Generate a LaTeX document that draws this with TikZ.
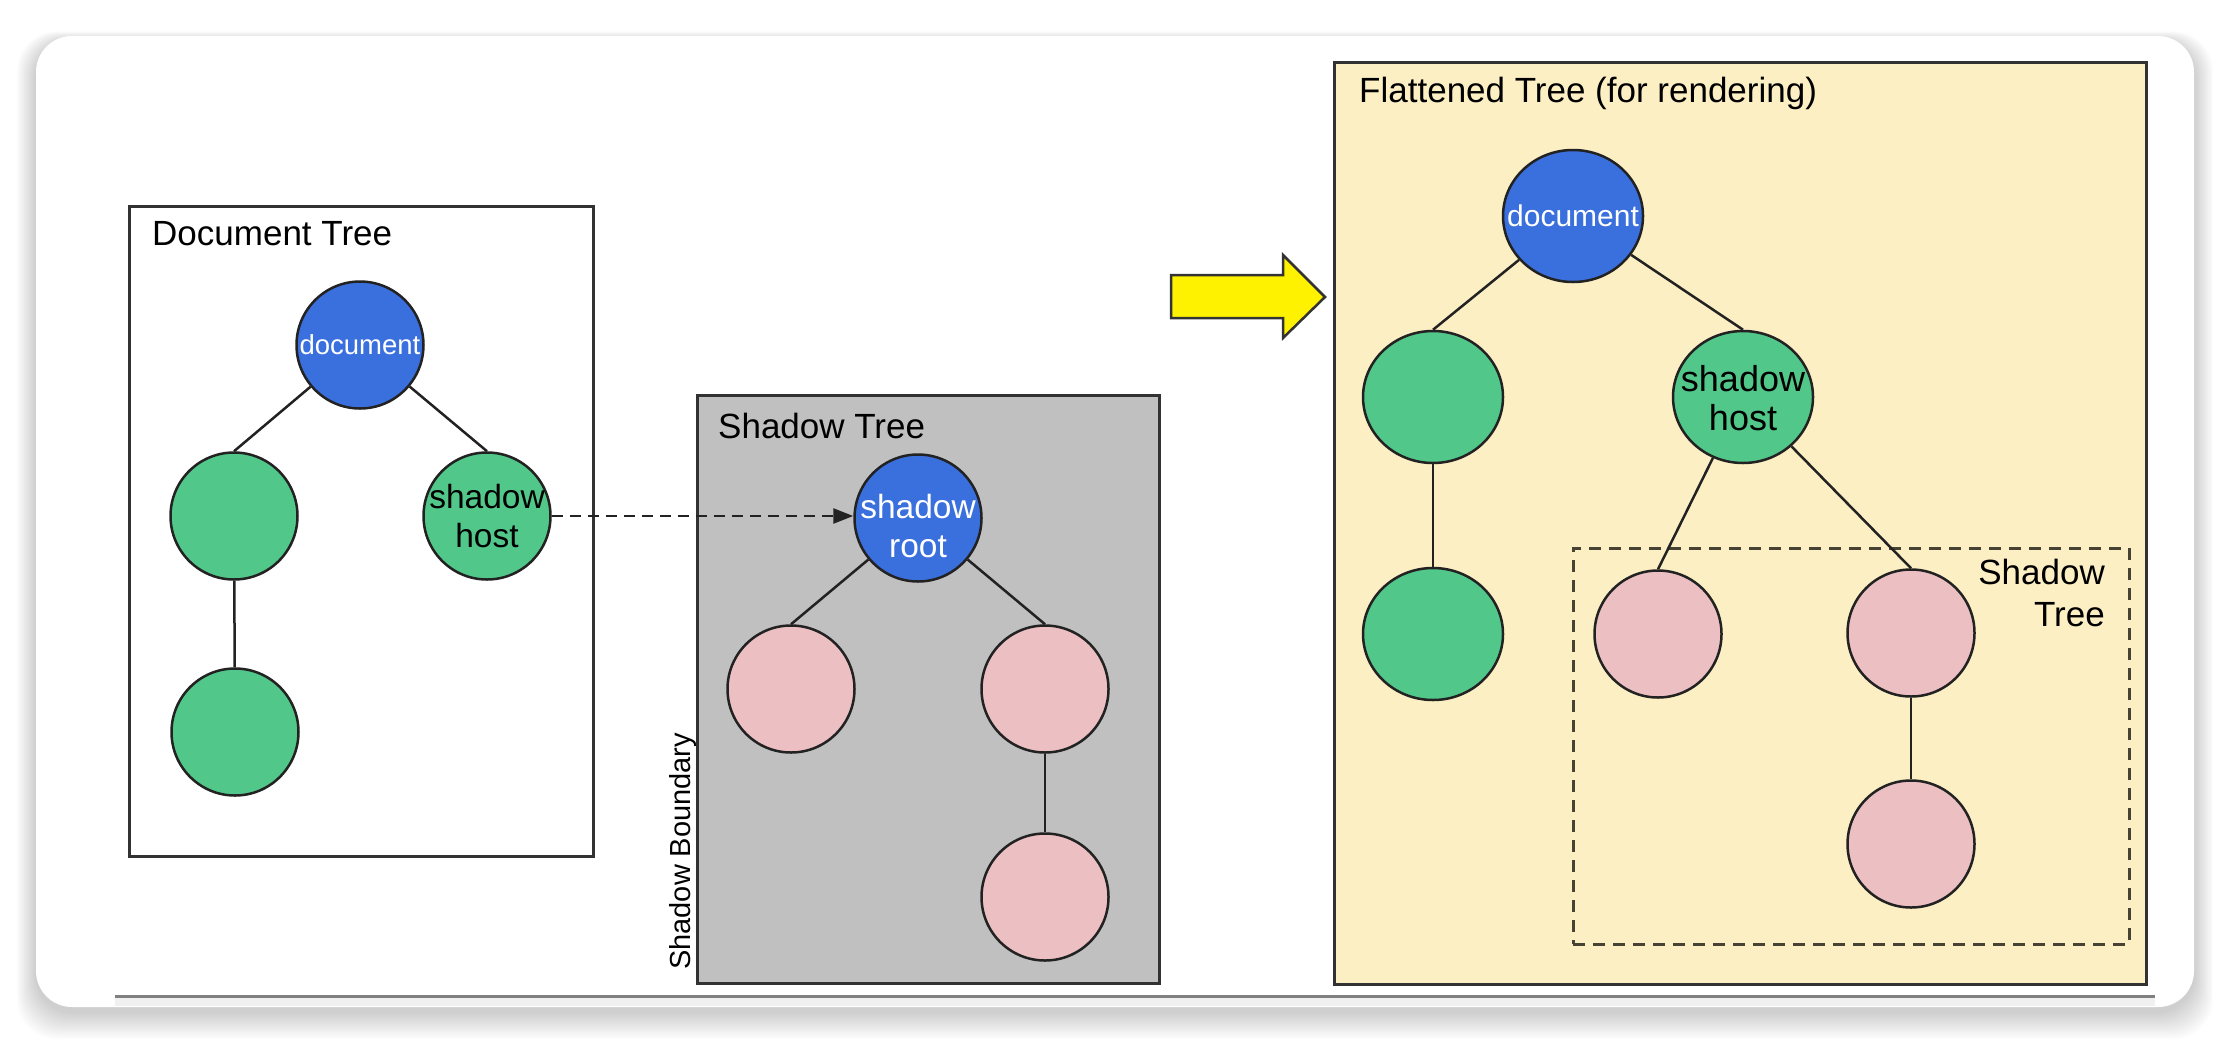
\documentclass[tikz,border=0pt]{standalone}
\usepackage{fontspec}
\setmainfont{Liberation Sans}
\usetikzlibrary{shapes.geometric,arrows.meta}
\definecolor{docblue}{RGB}{58,111,222}
\definecolor{nodegreen}{RGB}{82,199,138}
\definecolor{nodepink}{RGB}{236,192,194}
\definecolor{shadowgray}{RGB}{192,192,192}
\definecolor{flatyellow}{RGB}{252,239,196}
\definecolor{linedark}{RGB}{34,34,34}
\definecolor{boxedge}{RGB}{50,50,50}
\definecolor{dashcol}{RGB}{70,66,52}
\newcommand\zw[1]{\makebox[0pt]{#1}}
\tikzset{
 treenode/.style={ellipse, draw=linedark, line width=2.5pt, inner sep=0pt, align=center},
 smallnode/.style={treenode, minimum width=127pt, minimum height=127pt},
 bignode/.style={treenode, minimum width=140pt, minimum height=132pt},
 bluenode/.style={fill=docblue, text=white},
 greennode/.style={fill=nodegreen, text=black},
 pinknode/.style={fill=nodepink},
 link/.style={draw=linedark, line width=2.5pt},
 panel/.style={draw=boxedge, line width=2.5pt, inner sep=0pt, anchor=north west},
 paneltitle/.style={font=\fontsize{35}{42}\selectfont, inner sep=0pt, anchor=base west},
}
\begin{document}
\begin{tikzpicture}[x=1pt,y=-1pt]
\useasboundingbox (0,0) rectangle (2230,1042);
\fill[white] (0,0) rectangle (2230,1042);
% card shadow
\foreach \i in {1,...,16} {
  \fill[black, opacity=0.010, rounded corners=40pt] (36-\i*1.2, 36-\i*0.6+5) rectangle (2194+\i*1.2, 1007+\i*1.7+5);
}
\fill[white, rounded corners=36pt] (36,36) rectangle (2194,1007);
\fill[gray!12] (115,997) rectangle (2155,1006);
\draw[black!50, line width=3pt] (115,996) -- (2155,996);

% Document tree
\node[panel, fill=white, minimum width=464pt, minimum height=650pt] (dtbox) at (128,205) {};
\node[paneltitle] (dttitle) at (152,245) {Document Tree};
\node[smallnode, bluenode, font=\fontsize{27.5}{30}\selectfont] (d1) at (360,345) {\zw{document}};
\node[smallnode, greennode] (d2) at (234,516) {};
\node[smallnode, greennode, font=\fontsize{33.5}{39}\selectfont] (d3) at (487,516) {\zw{shadow}\\\zw{host}};
\node[smallnode, greennode] (d4) at (235,732) {};
\draw[link] (d1) -- (d2.north);
\draw[link] (d1) -- (d3.north);
\draw[link] (d2) -- (d4);

% Shadow tree
\node[panel, fill=shadowgray, minimum width=462pt, minimum height=588pt] (stbox) at (696,394) {};
\node[paneltitle] (sttitle) at (718,438) {Shadow Tree};
\node[smallnode, bluenode, font=\fontsize{33.5}{39}\selectfont] (s1) at (918,518) {\rule{0pt}{40pt}\zw{shadow}\\\zw{root}};
\node[smallnode, pinknode] (s2) at (791,689) {};
\node[smallnode, pinknode] (s3) at (1045,689) {};
\node[smallnode, pinknode] (s4) at (1045,897) {};
\draw[link] (s1) -- (s2.north);
\draw[link] (s1) -- (s3.north);
\draw[link] (s3) -- (s4);
\node[font=\fontsize{29}{34}\selectfont, rotate=90, anchor=base west, inner sep=0pt] (sb) at (690,970) {Shadow Boundary};
\draw[link, dash pattern=on 11pt off 7pt, -{Triangle[length=20pt,width=15pt]}] (d3.east) -- (s1.west |- d3.east);

% Yellow arrow
\draw[fill=yellow, draw=black!80, line width=2.5pt, line join=miter] (1171,275) -- (1283,275) -- (1283,255) -- (1325,297) -- (1283,338) -- (1283,318) -- (1171,318) -- cycle;

% Flattened tree
\node[panel, fill=flatyellow, minimum width=812pt, minimum height=922pt] (ftbox) at (1333,61) {};
\node[paneltitle] (fttitle) at (1359,102) {Flattened Tree (for rendering)};
\node[panel, draw=dashcol, dash pattern=on 12pt off 8pt, minimum width=556pt, minimum height=396pt] (shbox) at (1572,547) {};
\node[font=\fontsize{35}{42}\selectfont, align=right, inner sep=0pt, anchor=north east] (shlabel) at (2105,559) {Shadow\\Tree};
\node[bignode, bluenode, font=\fontsize{30}{34}\selectfont] (f1) at (1573,216) {\zw{document}};
\node[bignode, greennode] (f2) at (1433,397) {};
\node[bignode, greennode, font=\fontsize{36}{39}\selectfont] (f3) at (1743,397) {\rule{0pt}{29pt}\zw{shadow}\\\zw{host}};
\node[bignode, greennode] (f4) at (1433,634) {};
\node[smallnode, pinknode] (f5) at (1658,634) {};
\node[smallnode, pinknode] (f6) at (1911,633) {};
\node[smallnode, pinknode] (f7) at (1911,844) {};
\draw[link] (f1) -- (f2.north);
\draw[link] (f1) -- (f3.north);
\draw[link] (f2) -- (f4);
\draw[link] (f3) -- (f5.north);
\draw[link] (f3) -- (f6.north);
\draw[link] (f6) -- (f7);
\end{tikzpicture}
\end{document}
